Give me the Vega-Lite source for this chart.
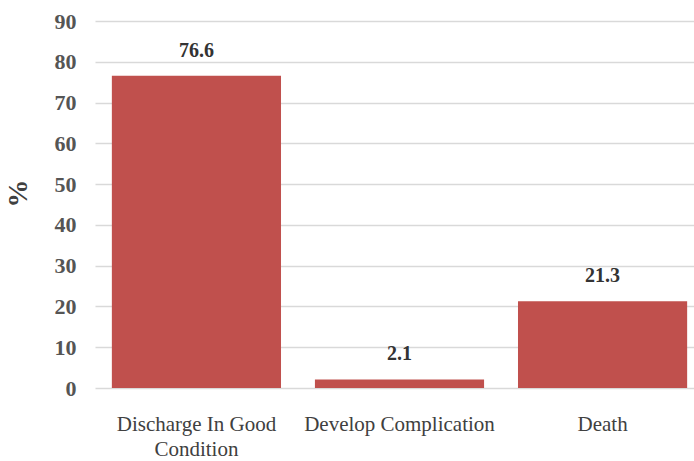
{
  "$schema": "https://vega.github.io/schema/vega-lite/v6.json",
  "autosize": "none",
  "width": 609,
  "height": 367,
  "padding": {"left": 95, "top": 21, "right": 0, "bottom": 73},
  "background": "white",
  "config": {
    "view": {"stroke": null},
    "font": "Liberation Serif"
  },
  "data": {
    "values": [
      {"outcome": "Discharge In Good Condition", "pct": 76.6},
      {"outcome": "Develop Complication", "pct": 2.1},
      {"outcome": "Death", "pct": 21.3}
    ]
  },
  "encoding": {
    "x": {
      "field": "outcome",
      "type": "nominal",
      "sort": null,
      "scale": {"paddingInner": 0.167, "paddingOuter": 0.083},
      "axis": {
        "title": null,
        "labelAngle": 0,
        "labelFont": "Liberation Serif",
        "labelFontSize": 21,
        "labelColor": "#404040",
        "labelPadding": 25,
        "labelLineHeight": 25,
        "labelLimit": 0,
        "labelExpr": "datum.label == 'Discharge In Good Condition' ? ['Discharge In Good', 'Condition'] : datum.label",
        "ticks": false,
        "domain": false
      }
    },
    "y": {
      "field": "pct",
      "type": "quantitative",
      "scale": {"domain": [0, 90]},
      "axis": {
        "title": "%",
        "titleFont": "Liberation Serif",
        "titleFontSize": 28,
        "titleFontWeight": "bold",
        "titleColor": "#404040",
        "titleX": -63,
        "titleY": 172,
        "values": [0, 10, 20, 30, 40, 50, 60, 70, 80, 90],
        "labelFont": "Liberation Serif",
        "labelFontSize": 22,
        "labelFontWeight": 600,
        "labelColor": "#555555",
        "labelPadding": 19,
        "ticks": false,
        "domain": false,
        "gridColor": "#d9d9d9",
        "gridWidth": 1.5
      }
    }
  },
  "layer": [
    {"mark": {"type": "bar", "color": "#C0504D"}},
    {
      "mark": {
        "type": "text",
        "dy": -15,
        "baseline": "bottom",
        "font": "Liberation Serif",
        "fontSize": 20,
        "fontWeight": "bold",
        "color": "#333333"
      },
      "encoding": {"text": {"field": "pct", "type": "quantitative", "format": ".1f"}}
    }
  ]
}
